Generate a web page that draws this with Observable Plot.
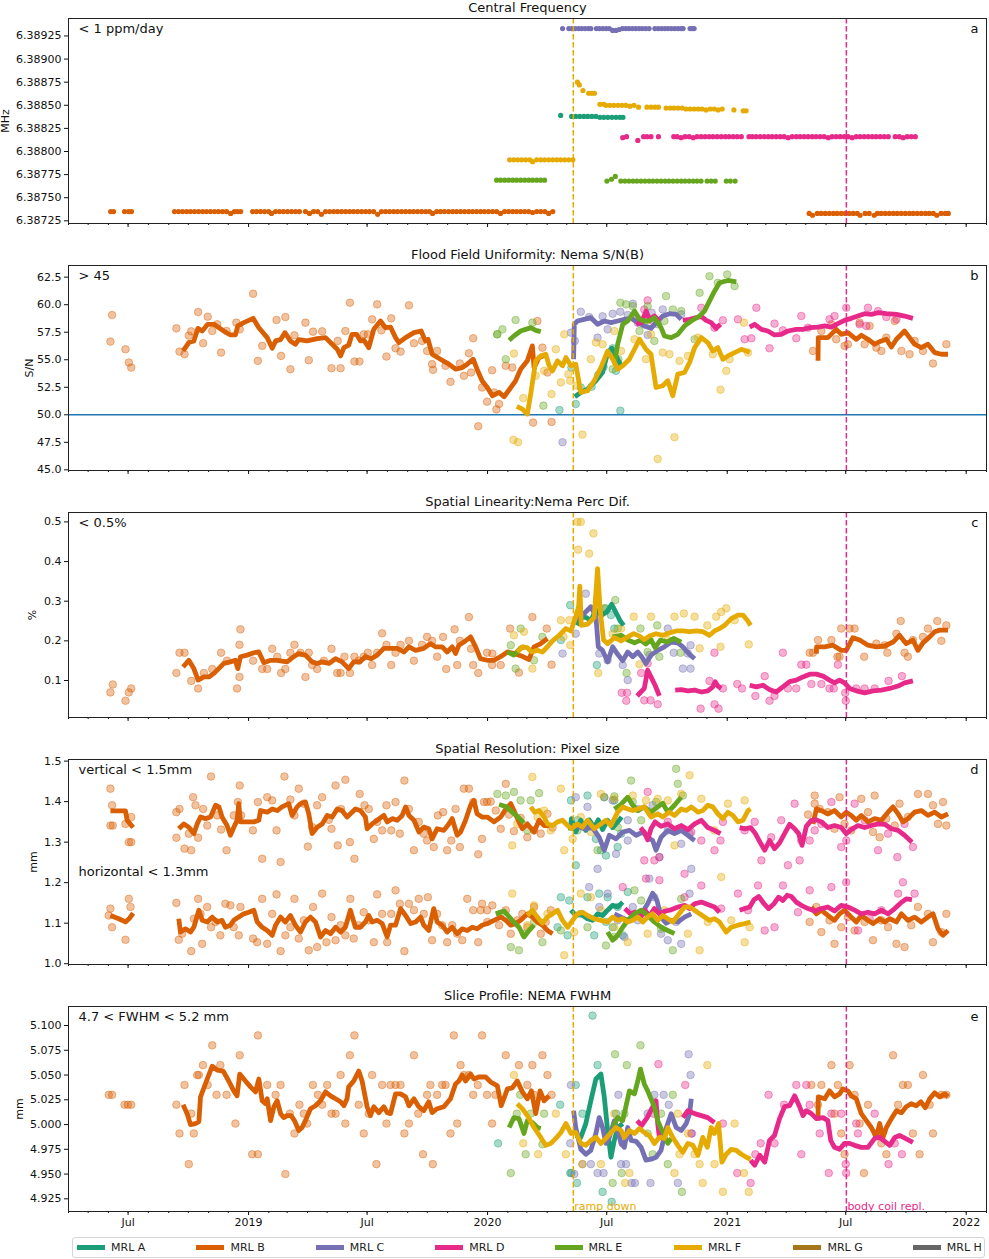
<!DOCTYPE html>
<html><head><meta charset="utf-8">
<script src="https://cdn.jsdelivr.net/npm/d3@7"></script>
<script src="https://cdn.jsdelivr.net/npm/@observablehq/plot@0.6"></script>
<style>
body{margin:0;background:#fff;font-family:"DejaVu Sans",sans-serif;}
#wrap{position:relative;width:989px;height:1259px;background:#fff;overflow:hidden}
#wrap svg{position:absolute;left:0}
#legend{position:absolute;left:72px;top:1237px;width:913px;height:21px;border:1px solid #d5d5d5;border-radius:3px;box-sizing:border-box;background:#fff}
.item{position:absolute;top:0;height:100%;display:flex;align-items:center;font-size:11px;color:#222;font-family:"DejaVu Sans",sans-serif;white-space:nowrap}
.sw{width:28px;height:5px;margin-right:6px}
</style></head><body><div id="wrap"><div id="legend"></div></div>
<script>
// ---------- categories / colours ----------
const seriesNames = ["MRL A","MRL B","MRL C","MRL D","MRL E","MRL F","MRL G","MRL H"];
const seriesColors = ["#1b9e77","#d95f02","#7570b3","#e7298a","#66a61e","#e6ab02","#a6761d","#666666"];
const eventDates = ["2020-05-11","2021-07-02"];
const eventLabels = ["ramp down","body coil repl."];
const eventColors = ["#e6ab02","#e7298a"];
const xMajorTicks = ["2018-07-01","2019-01-01","2019-07-01","2020-01-01","2020-07-01","2021-01-01","2021-07-01","2022-01-01"];
const xMajorLabels = ["Jul","2019","Jul","2020","Jul","2021","Jul","2022"];
const panelTitles = ["Central Frequency","Flood Field Uniformity: Nema S/N(B)","Spatial Linearity:Nema Perc Dif.","Spatial Resolution: Pixel size","Slice Profile: NEMA FWHM"];
const panelNotes = ["< 1 ppm/day","> 45","< 0.5%","vertical < 1.5mm","4.7 < FWHM < 5.2 mm"];
const panelLetters = ["a","b","c","d","e"];
const panelYLabels = ["MHz","S/N","%","mm","mm"];
const yTicksA = [6.38725,6.38750,6.38775,6.38800,6.38825,6.38850,6.38875,6.38900,6.38925];
const yTicksB = [45,47.5,50,52.5,55,57.5,60,62.5];
const yTicksC = [0.1,0.2,0.3,0.4,0.5];
const yTicksD = [1.0,1.1,1.2,1.3,1.4,1.5];
const yTicksE = [4.925,4.950,4.975,5.000,5.025,5.050,5.075,5.100];

// ---------- a: central frequency (decimal year, MHz) ----------
const cf_A = [[2020.305,6.38839],[2020.351,6.38838],[2020.368,6.38838],[2020.385,6.38838],[2020.402,6.38838],[2020.418,6.38838],[2020.435,6.38838],[2020.452,6.38838],[2020.469,6.38837],[2020.485,6.38837],[2020.502,6.38837],[2020.519,6.38837],[2020.536,6.38837],[2020.552,6.38837],[2020.565,6.38837]];
const cf_B = [[2018.423,6.38735],[2018.435,6.38735],[2018.481,6.38735],[2018.498,6.38735],[2018.510,6.38735],
[2018.690,6.38735],[2018.707,6.38735],[2018.724,6.38735],[2018.741,6.38735],[2018.757,6.38735],[2018.774,6.38735],[2018.791,6.38735],[2018.808,6.38735],[2018.824,6.38735],[2018.841,6.38735],[2018.858,6.38735],[2018.874,6.38735],[2018.891,6.38735],[2018.908,6.38735],[2018.925,6.38733],[2018.941,6.38735],[2018.954,6.38735],[2018.967,6.38735],
[2019.017,6.38735],[2019.033,6.38735],[2019.050,6.38735],[2019.067,6.38735],[2019.084,6.38735],[2019.096,6.38733],[2019.113,6.38735],[2019.130,6.38735],[2019.146,6.38735],[2019.163,6.38735],[2019.180,6.38735],[2019.197,6.38735],[2019.213,6.38735],
[2019.238,6.38735],[2019.255,6.38733],[2019.272,6.38735],[2019.289,6.38735],[2019.305,6.38732],[2019.322,6.38735],[2019.339,6.38735],[2019.356,6.38735],[2019.372,6.38735],[2019.389,6.38735],[2019.406,6.38735],[2019.423,6.38735],[2019.439,6.38735],[2019.456,6.38735],[2019.473,6.38735],[2019.490,6.38735],[2019.506,6.38735],[2019.523,6.38735],[2019.540,6.38732],[2019.556,6.38735],[2019.573,6.38735],[2019.590,6.38735],[2019.607,6.38735],[2019.623,6.38735],
[2019.640,6.38735],[2019.657,6.38735],[2019.674,6.38735],[2019.690,6.38735],[2019.707,6.38735],[2019.724,6.38735],[2019.741,6.38735],[2019.757,6.38735],[2019.770,6.38733],[2019.787,6.38735],[2019.803,6.38735],[2019.820,6.38735],[2019.837,6.38735],[2019.854,6.38735],[2019.870,6.38735],[2019.887,6.38735],[2019.904,6.38735],[2019.921,6.38735],[2019.937,6.38735],[2019.954,6.38735],[2019.971,6.38735],[2019.987,6.38735],[2020.004,6.38735],[2020.021,6.38735],[2020.038,6.38735],[2020.054,6.38733],[2020.071,6.38735],[2020.088,6.38735],[2020.105,6.38735],[2020.121,6.38735],[2020.138,6.38735],[2020.155,6.38735],[2020.172,6.38735],[2020.188,6.38734],[2020.205,6.38735],[2020.222,6.38735],[2020.239,6.38735],[2020.255,6.38733],[2020.272,6.38735],
[2021.343,6.38733],[2021.357,6.38731],[2021.377,6.38733],[2021.393,6.38733],[2021.410,6.38733],[2021.427,6.38733],[2021.444,6.38733],[2021.460,6.38733],[2021.477,6.38733],[2021.494,6.38733],[2021.510,6.38733],[2021.527,6.38733],[2021.544,6.38733],[2021.556,6.38731],[2021.577,6.38733],[2021.594,6.38733],[2021.615,6.38731],[2021.628,6.38733],[2021.644,6.38733],[2021.661,6.38733],[2021.678,6.38733],[2021.695,6.38733],[2021.711,6.38733],[2021.728,6.38733],[2021.745,6.38733],[2021.762,6.38733],[2021.778,6.38733],[2021.795,6.38733],[2021.812,6.38733],[2021.829,6.38733],[2021.845,6.38733],[2021.862,6.38733],[2021.877,6.38731],[2021.895,6.38733],[2021.912,6.38733],[2021.925,6.38733]];
const cf_C = [[2020.313,6.38933],[2020.339,6.38933],[2020.352,6.38933],[2020.366,6.38933],[2020.380,6.38933],[2020.393,6.38933],[2020.407,6.38933],[2020.421,6.38933],[2020.431,6.38933],[2020.454,6.38933],[2020.467,6.38933],[2020.481,6.38933],[2020.495,6.38933],[2020.508,6.38933],[2020.522,6.38931],[2020.536,6.38931],[2020.549,6.38932],[2020.563,6.38933],[2020.577,6.38933],[2020.590,6.38933],[2020.604,6.38933],[2020.618,6.38933],[2020.632,6.38933],[2020.645,6.38933],[2020.659,6.38933],[2020.674,6.38933],[2020.698,6.38933],[2020.712,6.38933],[2020.726,6.38933],[2020.740,6.38933],[2020.753,6.38933],[2020.767,6.38933],[2020.781,6.38933],[2020.795,6.38933],[2020.808,6.38933],[2020.816,6.38933],[2020.845,6.38933],[2020.855,6.38933],[2020.862,6.38933]];
const cf_D = [[2020.564,6.38815],[2020.580,6.38816],[2020.627,6.38812],[2020.651,6.38816],[2020.665,6.38816],[2020.682,6.38816],[2020.713,6.38816],
[2020.777,6.38816],[2020.791,6.38816],[2020.808,6.38815],[2020.824,6.38816],[2020.841,6.38816],[2020.858,6.38815],[2020.874,6.38816],[2020.891,6.38816],[2020.908,6.38816],[2020.925,6.38816],[2020.941,6.38816],[2020.958,6.38816],[2020.975,6.38816],[2020.992,6.38816],[2021.008,6.38816],[2021.025,6.38816],[2021.042,6.38816],[2021.059,6.38816],
[2021.091,6.38816],[2021.105,6.38816],[2021.121,6.38816],[2021.138,6.38816],[2021.155,6.38816],[2021.172,6.38816],[2021.188,6.38816],[2021.205,6.38816],[2021.222,6.38816],[2021.238,6.38816],[2021.255,6.38815],[2021.272,6.38816],[2021.289,6.38816],[2021.305,6.38816],[2021.322,6.38816],[2021.339,6.38816],[2021.356,6.38816],[2021.372,6.38816],[2021.389,6.38816],[2021.406,6.38816],[2021.423,6.38815],[2021.439,6.38816],[2021.456,6.38816],[2021.473,6.38816],[2021.490,6.38816],[2021.506,6.38816],[2021.523,6.38815],[2021.540,6.38816],[2021.556,6.38816],[2021.573,6.38816],[2021.590,6.38816],[2021.607,6.38816],[2021.623,6.38816],[2021.640,6.38816],[2021.657,6.38816],[2021.674,6.38816],
[2021.703,6.38816],[2021.720,6.38816],[2021.736,6.38815],[2021.753,6.38816],[2021.770,6.38816],[2021.787,6.38816]];
const cf_E = [[2020.038,6.38769],[2020.054,6.38769],[2020.071,6.38769],[2020.088,6.38769],[2020.105,6.38769],[2020.121,6.38769],[2020.138,6.38769],[2020.155,6.38769],[2020.172,6.38769],[2020.188,6.38769],[2020.205,6.38769],[2020.222,6.38769],[2020.238,6.38769],
[2020.498,6.38768],[2020.517,6.38770],[2020.533,6.38773],[2020.556,6.38768],[2020.573,6.38768],[2020.590,6.38768],[2020.607,6.38768],[2020.623,6.38768],[2020.640,6.38768],[2020.657,6.38768],[2020.674,6.38768],[2020.690,6.38768],[2020.707,6.38768],[2020.724,6.38768],[2020.741,6.38768],[2020.757,6.38768],[2020.774,6.38768],[2020.791,6.38768],[2020.808,6.38768],[2020.824,6.38768],[2020.841,6.38768],[2020.858,6.38768],[2020.874,6.38768],[2020.891,6.38768],[2020.916,6.38768],[2020.933,6.38768],[2020.950,6.38768],[2020.996,6.38768],[2021.013,6.38768],[2021.033,6.38768]];
const cf_F = [[2020.092,6.38791],[2020.109,6.38791],[2020.126,6.38791],[2020.142,6.38791],[2020.159,6.38791],[2020.176,6.38791],[2020.188,6.38789],[2020.205,6.38791],[2020.222,6.38791],[2020.238,6.38791],[2020.255,6.38791],[2020.272,6.38791],[2020.289,6.38791],[2020.305,6.38791],[2020.322,6.38791],[2020.339,6.38791],[2020.356,6.38791],
[2020.375,6.38875],[2020.383,6.38872],[2020.398,6.38866],[2020.422,6.38863],[2020.434,6.38863],[2020.446,6.38863],[2020.469,6.38851],[2020.485,6.38851],[2020.494,6.38850],[2020.510,6.38850],[2020.527,6.38850],[2020.544,6.38850],[2020.561,6.38850],[2020.577,6.38850],[2020.594,6.38849],[2020.611,6.38850],[2020.630,6.38848],[2020.665,6.38848],[2020.682,6.38848],[2020.699,6.38848],[2020.713,6.38848],[2020.745,6.38847],[2020.762,6.38847],[2020.778,6.38847],[2020.795,6.38847],[2020.812,6.38847],[2020.828,6.38846],[2020.845,6.38846],[2020.862,6.38846],[2020.879,6.38846],[2020.895,6.38846],[2020.912,6.38845],[2020.929,6.38846],[2020.946,6.38846],[2020.962,6.38845],[2020.979,6.38846],[2021.028,6.38845],[2021.067,6.38844],[2021.079,6.38844]];

// ---------- b: flood field uniformity S/N ----------
const sn_A_pts = [[2020.368,50.98],[2020.389,52.48],[2020.434,52.55],[2020.462,53.63],[2020.484,54.36],[2020.522,56.04],[2020.536,53.99],[2020.554,50.37],[2020.300,50.43],[2020.350,54.29]];
const sn_A_line = [[[2020.364,51.64],[2020.389,52.03],[2020.417,52.33],[2020.452,53.09],[2020.480,53.84],[2020.501,55.65],[2020.519,56.04],[2020.536,55.35],[2020.557,54.45]]];
const sn_B_pts = [[2018.422,56.65],[2018.429,59.06],[2018.485,55.95],[2018.499,54.75],[2018.509,54.29],[2018.698,57.85],[2018.711,55.74],[2018.732,55.50],[2018.750,57.19],[2018.760,57.58],[2018.789,59.33],[2018.810,56.50],[2018.829,58.91],[2018.848,57.61],[2018.869,58.22],[2018.885,55.65],[2018.908,57.61],[2018.949,58.37],[2018.963,57.76],[2019.019,60.99],[2019.039,54.90],[2019.057,56.26],[2019.117,58.61],[2019.136,55.35],[2019.154,58.88],[2019.175,54.14],[2019.192,57.22],[2019.238,58.37],[2019.252,54.96],[2019.270,57.55],[2019.308,57.58],[2019.347,54.23],[2019.373,56.71],[2019.385,54.23],[2019.405,57.61],[2019.424,60.18],[2019.443,54.84],[2019.464,54.84],[2019.482,57.31],[2019.499,57.31],[2019.517,58.67],[2019.538,60.03],[2019.556,57.67],[2019.577,55.29],[2019.597,58.76],[2019.615,56.04],[2019.636,55.74],[2019.671,59.94],[2019.692,56.50],[2019.726,56.71],[2019.747,55.80],[2019.768,54.60],[2019.772,54.08],[2019.789,55.80],[2019.824,54.45],[2019.845,52.99],[2019.884,54.66],[2019.901,53.54],[2019.922,55.59],[2019.931,53.84],[2019.940,56.95],[2019.961,48.96],[2019.977,52.48],[2019.998,51.19],[2020.019,54.05],[2020.037,50.49],[2020.027,52.03],[2020.048,50.98],[2020.076,54.45],[2020.103,54.29],[2020.190,49.29],[2020.208,58.52],[2020.229,56.10],[2020.250,53.84],[2020.267,49.35],
[2021.359,55.80],[2021.394,57.61],[2021.436,58.22],[2021.456,56.86],[2021.491,56.26],[2021.505,56.41],[2021.554,58.37],[2021.575,56.41],[2021.596,58.07],[2021.624,56.10],[2021.645,55.80],[2021.666,57.01],[2021.701,58.52],[2021.729,55.80],[2021.763,55.50],[2021.784,56.71],[2021.819,55.80],[2021.861,54.66],[2021.917,56.41]];
const sn_B_line = [
[[2018.726,55.80],[2018.750,56.56],[2018.771,56.71],[2018.788,57.85],[2018.806,57.61],[2018.829,58.22],[2018.855,58.22],[2018.896,57.61],[2018.924,57.25],[2018.945,57.25],[2018.955,58.07],[2018.980,58.37],[2019.019,58.76],[2019.043,57.91],[2019.078,57.01],[2019.099,56.04],[2019.113,56.71],[2019.134,56.83],[2019.152,57.46],[2019.175,56.71],[2019.196,56.41],[2019.210,56.83],[2019.245,56.71],[2019.287,56.92],[2019.322,57.01],[2019.350,56.41],[2019.371,55.95],[2019.385,55.35],[2019.399,56.10],[2019.419,56.32],[2019.433,57.31],[2019.452,57.31],[2019.468,56.71],[2019.482,56.80],[2019.503,56.10],[2019.524,57.76],[2019.552,58.52],[2019.573,57.91],[2019.594,57.97],[2019.615,57.01],[2019.629,56.56],[2019.657,57.01],[2019.692,57.46],[2019.722,57.61],[2019.740,56.71],[2019.751,56.86],[2019.768,55.50],[2019.803,55.05],[2019.838,54.60],[2019.866,54.14],[2019.894,54.29],[2019.915,54.60],[2019.940,55.05],[2019.956,54.14],[2019.977,53.09],[2019.999,52.48],[2020.020,51.73],[2020.048,52.03],[2020.069,51.64],[2020.097,52.48],[2020.117,53.09],[2020.138,54.14],[2020.166,54.90],[2020.187,56.26],[2020.194,54.29],[2020.215,55.20],[2020.250,55.50]],
[[2021.380,54.90],[2021.381,57.01],[2021.421,57.01],[2021.456,57.76],[2021.477,57.31],[2021.505,57.46],[2021.540,56.86],[2021.561,57.22],[2021.589,56.86],[2021.617,56.41],[2021.645,56.71],[2021.666,56.86],[2021.687,56.16],[2021.708,56.86],[2021.742,57.61],[2021.763,57.01],[2021.784,56.41],[2021.812,56.10],[2021.840,56.41],[2021.868,55.65],[2021.896,55.50],[2021.924,55.50]]];
const sn_C_pts = [[2020.348,57.46],[2020.364,56.71],[2020.389,59.36],[2020.424,58.88],[2020.459,57.01],[2020.480,58.94],[2020.501,57.76],[2020.522,59.18],[2020.554,59.36],[2020.585,59.06],[2020.606,60.09],[2020.627,58.37],[2020.668,57.25],[2020.685,59.27],[2020.710,58.22],[2020.731,59.57],[2020.313,47.51],[2020.808,59.12]];
const sn_C_line = [[[2020.359,55.05],[2020.362,58.22],[2020.375,58.52],[2020.403,58.67],[2020.431,58.82],[2020.459,58.22],[2020.487,58.52],[2020.515,58.37],[2020.543,58.52],[2020.571,58.67],[2020.599,58.76],[2020.627,58.37],[2020.654,58.07],[2020.682,57.85],[2020.703,58.37],[2020.731,58.97],[2020.759,59.18],[2020.787,59.12],[2020.808,58.67]]];
const sn_D_pts = [[2020.624,58.76],[2020.654,59.57],[2020.668,60.39],[2020.689,58.52],[2020.892,59.72],[2020.947,57.91],[2020.982,58.58],[2021.045,58.67],[2021.073,56.86],[2021.101,56.95],[2021.122,59.72],[2021.177,56.04],[2021.198,58.28],[2021.233,57.67],[2021.289,56.95],[2021.310,58.97],[2021.338,57.91],[2021.428,58.67],[2021.449,58.97],[2021.498,59.72],[2021.554,58.22],[2021.589,59.72],[2021.631,59.42],[2021.666,58.88],[2021.708,58.67],[2021.582,58.07]];
const sn_D_line = [
[[2020.620,58.22],[2020.641,58.37],[2020.662,59.42],[2020.675,58.67],[2020.696,58.97],[2020.717,58.52]],
[[2020.815,58.58],[2020.843,58.67],[2020.871,58.82],[2020.892,58.94],[2020.912,58.58],[2020.933,58.37],[2020.954,57.85],[2020.972,58.22]],
[[2021.094,57.97],[2021.115,58.22],[2021.143,57.76],[2021.170,57.61],[2021.198,57.25],[2021.226,57.31],[2021.254,57.61],[2021.289,57.76],[2021.317,57.76],[2021.345,57.91],[2021.380,57.97],[2021.408,58.07],[2021.436,57.97],[2021.463,58.28],[2021.491,58.58],[2021.519,58.76],[2021.547,58.97],[2021.575,59.18],[2021.603,59.12],[2021.631,59.27],[2021.666,59.18],[2021.708,59.12],[2021.742,58.97],[2021.777,58.76]]];
const sn_E_pts = [[2020.041,57.31],[2020.062,57.76],[2020.117,58.61],[2020.187,58.37],[2020.076,55.05],[2020.233,50.83],[2020.040,57.31],
[2020.554,60.18],[2020.578,60.03],[2020.606,59.87],[2020.634,57.61],[2020.654,58.22],[2020.668,59.87],[2020.696,56.71],[2020.738,58.52],[2020.745,60.78],[2020.773,59.57],[2020.808,59.42],[2020.864,56.86],[2020.885,61.08],[2020.926,62.59],[2020.961,61.99],[2021.000,62.74],[2021.031,61.69],[2020.546,55.05],[2020.522,54.14]];
const sn_E_line = [
[[2020.090,56.77],[2020.110,57.16],[2020.138,57.61],[2020.159,57.76],[2020.180,57.91],[2020.201,57.67],[2020.222,57.55]],
[[2020.529,54.60],[2020.543,56.41],[2020.564,58.22],[2020.585,58.52],[2020.613,59.42],[2020.634,58.67],[2020.654,58.52],[2020.675,58.52],[2020.696,58.82],[2020.724,57.91],[2020.738,57.16],[2020.766,57.01],[2020.794,57.31],[2020.822,58.07],[2020.850,58.52],[2020.885,58.97],[2020.905,59.42],[2020.926,60.33],[2020.947,61.23],[2020.968,61.99],[2021.003,62.20],[2021.038,62.08]]];
const sn_F_pts = [[2020.110,55.56],[2020.149,51.52],[2020.201,53.54],[2020.236,53.99],[2020.267,51.88],[2020.285,55.95],[2020.306,52.94],[2020.320,57.31],[2020.337,53.69],[2020.345,53.09],[2020.373,52.64],[2020.396,48.20],[2020.431,55.05],[2020.452,56.56],[2020.480,56.41],[2020.529,57.61],[2020.557,55.80],[2020.613,56.86],[2020.661,55.05],[2020.682,57.31],[2020.710,45.99],[2020.731,55.65],[2020.759,55.50],[2020.780,47.96],[2020.801,54.90],[2020.836,55.35],[2020.878,57.01],[2020.940,55.50],[2020.972,52.28],[2020.996,53.99],[2021.010,55.05],[2021.070,58.37],[2021.087,55.65],[2020.108,47.72],[2020.127,47.51]];
const sn_F_line = [[[2020.122,50.77],[2020.145,50.52],[2020.166,50.07],[2020.180,51.88],[2020.201,54.90],[2020.222,55.35],[2020.243,55.50],[2020.257,54.45],[2020.271,53.99],[2020.292,54.90],[2020.313,54.45],[2020.327,55.20],[2020.348,54.45],[2020.368,54.60],[2020.389,52.03],[2020.417,52.18],[2020.445,53.09],[2020.473,54.29],[2020.501,55.80],[2020.522,55.05],[2020.543,54.14],[2020.564,54.45],[2020.592,55.05],[2020.613,55.95],[2020.634,56.86],[2020.661,55.95],[2020.682,55.50],[2020.703,52.48],[2020.731,52.64],[2020.752,53.09],[2020.773,51.73],[2020.794,53.69],[2020.822,53.84],[2020.843,54.75],[2020.864,56.10],[2020.892,57.01],[2020.919,56.56],[2020.940,55.80],[2020.961,56.10],[2020.982,55.05],[2021.003,55.35],[2021.031,55.65],[2021.059,55.95],[2021.080,55.80],[2021.094,55.65]]];

// ---------- c: spatial linearity % ----------
const sl_A_pts = [[2020.345,0.290],[2020.456,0.282],[2020.487,0.282],[2020.456,0.139],[2020.515,0.265],[2020.529,0.231],[2020.306,0.202]];
const sl_A_line = [[[2020.373,0.239],[2020.389,0.259],[2020.410,0.259],[2020.431,0.252],[2020.452,0.277],[2020.476,0.265],[2020.498,0.273],[2020.518,0.292],[2020.536,0.271],[2020.554,0.250],[2020.568,0.239]]];
const sl_B_pts = [[2018.422,0.070],[2018.432,0.090],[2018.485,0.049],[2018.499,0.070],[2018.509,0.080],[2018.698,0.119],[2018.711,0.170],[2018.732,0.170],[2018.760,0.099],[2018.789,0.080],[2018.813,0.119],[2018.848,0.129],[2018.885,0.170],[2018.910,0.150],[2018.952,0.080],[2018.962,0.190],[2018.962,0.109],[2018.966,0.229],[2019.019,0.150],[2019.057,0.129],[2019.078,0.129],[2019.099,0.180],[2019.120,0.160],[2019.136,0.119],[2019.154,0.129],[2019.175,0.170],[2019.192,0.190],[2019.217,0.170],[2019.238,0.109],[2019.252,0.170],[2019.266,0.139],[2019.287,0.129],[2019.315,0.150],[2019.347,0.180],[2019.371,0.119],[2019.385,0.119],[2019.401,0.160],[2019.424,0.119],[2019.443,0.160],[2019.461,0.150],[2019.482,0.160],[2019.499,0.170],[2019.517,0.139],[2019.538,0.170],[2019.559,0.219],[2019.577,0.190],[2019.597,0.139],[2019.615,0.170],[2019.636,0.190],[2019.671,0.200],[2019.692,0.150],[2019.726,0.190],[2019.747,0.210],[2019.768,0.200],[2019.789,0.160],[2019.814,0.210],[2019.827,0.129],[2019.862,0.229],[2019.873,0.139],[2019.884,0.200],[2019.922,0.260],[2019.931,0.180],[2019.940,0.139],[2019.961,0.119],[2019.998,0.170],[2020.019,0.139],
[2020.094,0.231],[2020.187,0.260],[2020.131,0.120],[2020.247,0.231],[2020.267,0.140],[2020.020,0.168],[2020.055,0.139],
[2021.345,0.170],[2021.359,0.170],[2021.380,0.202],[2021.436,0.202],[2021.461,0.160],[2021.470,0.160],[2021.477,0.231],[2021.512,0.231],[2021.533,0.231],[2021.573,0.160],[2021.624,0.193],[2021.659,0.189],[2021.670,0.170],[2021.708,0.218],[2021.726,0.250],[2021.742,0.170],[2021.756,0.160],[2021.777,0.202],[2021.819,0.210],[2021.840,0.231],[2021.879,0.250],[2021.896,0.200],[2021.917,0.239]];
const sl_B_line = [
[[2018.726,0.134],[2018.750,0.151],[2018.771,0.130],[2018.789,0.101],[2018.813,0.109],[2018.834,0.109],[2018.855,0.118],[2018.875,0.130],[2018.896,0.143],[2018.924,0.147],[2018.945,0.151],[2018.955,0.130],[2018.966,0.160],[2018.994,0.164],[2019.022,0.170],[2019.043,0.172],[2019.064,0.145],[2019.092,0.151],[2019.120,0.151],[2019.161,0.147],[2019.189,0.160],[2019.210,0.168],[2019.238,0.164],[2019.266,0.147],[2019.287,0.143],[2019.308,0.147],[2019.336,0.143],[2019.364,0.155],[2019.391,0.147],[2019.419,0.130],[2019.440,0.147],[2019.465,0.147],[2019.489,0.160],[2019.513,0.155],[2019.538,0.164],[2019.566,0.181],[2019.594,0.181],[2019.622,0.181],[2019.650,0.172],[2019.671,0.185],[2019.699,0.176],[2019.733,0.181],[2019.761,0.193],[2019.782,0.185],[2019.810,0.185],[2019.831,0.172],[2019.852,0.185],[2019.866,0.168],[2019.880,0.189],[2019.901,0.197],[2019.929,0.210],[2019.950,0.185],[2019.970,0.155],[2019.998,0.151],[2020.026,0.151],[2020.054,0.160],[2020.083,0.172],[2020.110,0.168],[2020.145,0.161],[2020.173,0.153],[2020.194,0.185],[2020.222,0.193],[2020.250,0.206]],
[[2021.373,0.168],[2021.374,0.185],[2021.408,0.185],[2021.442,0.189],[2021.477,0.176],[2021.498,0.176],[2021.526,0.208],[2021.554,0.202],[2021.589,0.189],[2021.624,0.185],[2021.659,0.187],[2021.694,0.197],[2021.721,0.214],[2021.749,0.193],[2021.777,0.202],[2021.798,0.176],[2021.819,0.195],[2021.847,0.210],[2021.868,0.223],[2021.889,0.227],[2021.924,0.227]]];
const sl_C_pts = [[2020.410,0.319],[2020.313,0.168],[2020.368,0.218],[2020.466,0.168],[2020.501,0.151],[2020.564,0.139],[2020.585,0.101],[2020.675,0.164],[2020.752,0.231],[2020.777,0.170],[2020.815,0.130],[2020.847,0.130],[2020.847,0.189],[2020.836,0.168]];
const sl_C_line = [[[2020.373,0.254],[2020.403,0.269],[2020.431,0.286],[2020.452,0.262],[2020.462,0.185],[2020.480,0.176],[2020.501,0.147],[2020.522,0.185],[2020.543,0.166],[2020.564,0.150],[2020.585,0.172],[2020.606,0.160],[2020.627,0.172],[2020.643,0.160],[2020.661,0.143],[2020.682,0.164],[2020.710,0.176],[2020.738,0.185],[2020.766,0.197],[2020.794,0.195],[2020.815,0.185],[2020.843,0.166],[2020.864,0.155]]];
const sl_D_pts = [[2020.560,0.069],[2020.582,0.069],[2020.579,0.049],[2020.654,0.050],[2020.680,0.050],[2020.710,0.040],[2020.641,0.119],[2020.668,0.143],[2020.889,0.029],[2020.926,0.099],[2020.947,0.040],[2020.964,0.029],[2020.947,0.170],[2020.982,0.080],[2021.042,0.091],[2021.062,0.080],[2021.118,0.061],[2021.157,0.111],[2021.177,0.049],[2021.198,0.061],[2021.233,0.170],[2021.254,0.080],[2021.289,0.080],[2021.310,0.140],[2021.331,0.140],[2021.352,0.091],[2021.394,0.091],[2021.428,0.080],[2021.446,0.080],[2021.463,0.140],[2021.494,0.069],[2021.496,0.049],[2021.540,0.080],[2021.575,0.080],[2021.617,0.080],[2021.675,0.099],[2021.731,0.111]];
const sl_D_line = [
[[2020.624,0.061],[2020.654,0.080],[2020.668,0.126],[2020.682,0.109],[2020.699,0.088],[2020.717,0.061]],
[[2020.783,0.076],[2020.808,0.077],[2020.836,0.074],[2020.864,0.076],[2020.892,0.071],[2020.919,0.074],[2020.940,0.084],[2020.950,0.097],[2020.961,0.086],[2020.975,0.080]],
[[2021.094,0.088],[2021.122,0.084],[2021.150,0.088],[2021.177,0.077],[2021.205,0.071],[2021.233,0.084],[2021.261,0.097],[2021.289,0.101],[2021.317,0.109],[2021.345,0.116],[2021.373,0.116],[2021.401,0.111],[2021.428,0.101],[2021.449,0.094],[2021.470,0.101],[2021.491,0.094],[2021.512,0.080],[2021.540,0.074],[2021.575,0.069],[2021.610,0.074],[2021.645,0.076],[2021.680,0.080],[2021.715,0.086],[2021.742,0.094],[2021.777,0.099]]];
const sl_E_pts = [[2020.097,0.189],[2020.117,0.130],[2020.138,0.231],[2020.194,0.151],[2020.229,0.210],[2020.494,0.282],[2020.533,0.303],[2020.543,0.231],[2020.580,0.119],[2020.638,0.231],[2020.708,0.239],[2020.668,0.172],[2020.717,0.160],[2020.805,0.170]];
const sl_E_line = [
[[2020.083,0.172],[2020.110,0.164],[2020.136,0.181],[2020.155,0.185]],
[[2020.522,0.210],[2020.557,0.214],[2020.585,0.202],[2020.613,0.195],[2020.638,0.202],[2020.661,0.192],[2020.682,0.203],[2020.699,0.183],[2020.721,0.202],[2020.749,0.197],[2020.777,0.206],[2020.808,0.197]]];
const sl_F_pts = [[2020.375,0.500],[2020.389,0.500],[2020.378,0.430],[2020.424,0.420],[2020.442,0.471],[2020.306,0.252],[2020.317,0.210],[2020.345,0.189],[2020.341,0.252],[2020.187,0.130],[2020.152,0.223],[2020.462,0.119],[2020.610,0.261],[2020.682,0.261],[2020.780,0.261],[2020.819,0.269],[2020.864,0.261],[2020.885,0.181],[2020.917,0.239],[2020.954,0.261],[2020.975,0.273],[2020.996,0.282],[2020.972,0.185],[2021.031,0.252],[2021.090,0.191],[2020.634,0.141],[2020.752,0.202],[2020.522,0.218],[2020.557,0.231],[2020.110,0.214]];
const sl_F_line = [[[2020.124,0.172],[2020.145,0.185],[2020.166,0.183],[2020.183,0.172],[2020.208,0.176],[2020.229,0.172],[2020.250,0.185],[2020.271,0.200],[2020.299,0.214],[2020.327,0.231],[2020.348,0.225],[2020.368,0.261],[2020.380,0.287],[2020.385,0.338],[2020.391,0.239],[2020.417,0.242],[2020.445,0.259],[2020.459,0.382],[2020.470,0.277],[2020.484,0.202],[2020.501,0.193],[2020.529,0.208],[2020.557,0.200],[2020.585,0.210],[2020.610,0.218],[2020.634,0.212],[2020.654,0.203],[2020.675,0.212],[2020.703,0.218],[2020.731,0.214],[2020.759,0.220],[2020.787,0.225],[2020.815,0.225],[2020.843,0.223],[2020.871,0.225],[2020.898,0.223],[2020.926,0.214],[2020.947,0.225],[2020.968,0.231],[2020.989,0.239],[2021.017,0.256],[2021.045,0.265],[2021.066,0.265],[2021.084,0.252],[2021.098,0.239]]];

// ---------- d: spatial resolution pixel size (mm) ----------
const sr_A_pts = [[2020.348,1.403],[2020.375,1.354],[2020.417,1.415],[2020.452,1.308],[2020.473,1.280],[2020.494,1.267],[2020.368,1.243],[2020.529,1.403],[2020.543,1.288],[2020.557,1.321],
[2020.306,1.164],[2020.341,1.156],[2020.389,1.123],[2020.417,1.164],[2020.445,1.070],[2020.466,1.173],[2020.494,1.103],[2020.501,1.164],[2020.522,1.090],[2020.543,1.140],[2020.564,1.070],[2020.585,1.177],[2020.292,1.090],[2020.334,1.070]];
const sr_A_line = [
[[2020.345,1.329],[2020.350,1.358],[2020.368,1.325],[2020.389,1.354],[2020.410,1.329],[2020.424,1.355],[2020.445,1.336],[2020.462,1.355],[2020.480,1.331],[2020.501,1.354],[2020.522,1.336],[2020.543,1.350],[2020.560,1.362]],
[[2020.348,1.132],[2020.368,1.119],[2020.389,1.123],[2020.417,1.111],[2020.438,1.107],[2020.459,1.123],[2020.480,1.119],[2020.501,1.132],[2020.522,1.144],[2020.543,1.140],[2020.564,1.152]]];
const sr_B_pts = [[2018.422,1.432],[2018.429,1.391],[2018.422,1.341],[2018.432,1.341],[2018.485,1.345],[2018.499,1.300],[2018.509,1.300],[2018.509,1.362],[2018.698,1.374],[2018.698,1.311],[2018.711,1.382],[2018.732,1.284],[2018.750,1.321],[2018.760,1.280],[2018.768,1.411],[2018.778,1.391],[2018.789,1.311],[2018.810,1.382],[2018.827,1.341],[2018.843,1.462],[2018.869,1.366],[2018.885,1.331],[2018.908,1.280],[2018.938,1.366],[2018.955,1.399],[2018.963,1.440],[2018.969,1.366],[2019.018,1.329],[2019.039,1.399],[2019.057,1.259],[2019.078,1.411],[2019.099,1.403],[2019.117,1.329],[2019.134,1.251],[2019.150,1.462],[2019.175,1.405],[2019.192,1.366],[2019.210,1.432],[2019.231,1.395],[2019.248,1.289],[2019.266,1.337],[2019.287,1.391],[2019.308,1.411],[2019.336,1.355],[2019.347,1.333],[2019.364,1.440],[2019.373,1.292],[2019.387,1.382],[2019.405,1.454],[2019.424,1.300],[2019.443,1.259],[2019.465,1.419],[2019.485,1.391],[2019.503,1.382],[2019.524,1.308],[2019.538,1.350],[2019.559,1.329],[2019.577,1.391],[2019.597,1.329],[2019.615,1.399],[2019.633,1.321],[2019.652,1.452],[2019.671,1.382],[2019.692,1.280],[2019.712,1.350],[2019.733,1.321],[2019.747,1.304],[2019.775,1.288],[2019.792,1.366],[2019.814,1.374],[2019.831,1.280],[2019.848,1.304],[2019.866,1.382],[2019.884,1.288],[2019.901,1.432],[2019.922,1.432],[2019.940,1.399],[2019.961,1.270],[2019.977,1.308],[2019.998,1.399],
[2018.415,1.119],[2018.422,1.136],[2018.429,1.090],[2018.485,1.059],[2018.499,1.160],[2018.506,1.140],[2018.698,1.150],[2018.708,1.059],[2018.722,1.074],[2018.760,1.031],[2018.771,1.111],[2018.789,1.160],[2018.799,1.123],[2018.806,1.049],[2018.827,1.140],[2018.843,1.090],[2018.862,1.103],[2018.882,1.070],[2018.903,1.148],[2018.924,1.144],[2018.938,1.090],[2018.959,1.070],[2018.966,1.140],[2019.019,1.062],[2019.036,1.053],[2019.057,1.160],[2019.078,1.049],[2019.099,1.123],[2019.117,1.171],[2019.134,1.031],[2019.154,1.070],[2019.175,1.090],[2019.192,1.160],[2019.210,1.062],[2019.231,1.107],[2019.252,1.033],[2019.270,1.140],[2019.287,1.041],[2019.308,1.173],[2019.326,1.053],[2019.347,1.115],[2019.364,1.058],[2019.385,1.095],[2019.405,1.070],[2019.426,1.160],[2019.440,1.062],[2019.461,1.095],[2019.482,1.127],[2019.503,1.107],[2019.524,1.053],[2019.538,1.171],[2019.559,1.123],[2019.580,1.053],[2019.597,1.123],[2019.615,1.181],[2019.633,1.148],[2019.652,1.031],[2019.671,1.148],[2019.692,1.132],[2019.712,1.160],[2019.733,1.123],[2019.750,1.164],[2019.768,1.058],[2019.789,1.123],[2019.810,1.095],[2019.831,1.053],[2019.852,1.095],[2019.873,1.074],[2019.894,1.058],[2019.915,1.160],[2019.940,1.132],[2019.961,1.053],[2019.977,1.148],[2019.998,1.132],
[2019.985,1.399],[2020.013,1.400],[2020.034,1.378],[2020.055,1.333],[2020.076,1.444],[2020.090,1.368],[2020.110,1.327],[2020.138,1.360],[2020.166,1.312],[2020.194,1.329],[2020.222,1.321],[2020.250,1.370],[2020.271,1.336],
[2021.338,1.368],[2021.366,1.395],[2021.366,1.415],[2021.387,1.382],[2021.421,1.374],[2021.449,1.333],[2021.470,1.411],[2021.491,1.345],[2021.519,1.329],[2021.561,1.407],[2021.589,1.374],[2021.617,1.415],[2021.610,1.325],[2021.638,1.312],[2021.666,1.358],[2021.701,1.341],[2021.721,1.395],[2021.756,1.362],[2021.798,1.419],[2021.840,1.419],[2021.861,1.391],[2021.882,1.345],[2021.903,1.399],[2021.917,1.341],
[2019.971,1.132],[2019.999,1.103],[2020.020,1.144],[2020.048,1.095],[2020.076,1.132],[2020.097,1.074],[2020.124,1.107],[2020.145,1.123],[2020.166,1.090],[2020.194,1.140],[2020.222,1.074],[2020.243,1.103],[2020.264,1.132],
[2021.345,1.103],[2021.373,1.140],[2021.394,1.078],[2021.428,1.107],[2021.449,1.049],[2021.477,1.090],[2021.505,1.115],[2021.533,1.082],[2021.575,1.103],[2021.610,1.058],[2021.645,1.107],[2021.673,1.090],[2021.708,1.049],[2021.742,1.041],[2021.770,1.095],[2021.798,1.140],[2021.840,1.123],[2021.861,1.053],[2021.896,1.078],[2021.917,1.123]];
const sr_B_line = [
[[2018.422,1.377],[2018.485,1.377],[2018.492,1.354],[2018.517,1.336]],
[[2018.708,1.333],[2018.729,1.345],[2018.750,1.337],[2018.771,1.321],[2018.785,1.345],[2018.799,1.362],[2018.820,1.358],[2018.841,1.362],[2018.862,1.391],[2018.876,1.387],[2018.889,1.362],[2018.910,1.341],[2018.924,1.317],[2018.938,1.336],[2018.952,1.354],[2018.959,1.395],[2018.966,1.350],[2019.022,1.350],[2019.043,1.354],[2019.050,1.378],[2019.078,1.374],[2019.099,1.382],[2019.120,1.378],[2019.140,1.387],[2019.168,1.395],[2019.182,1.366],[2019.203,1.387],[2019.217,1.395],[2019.238,1.399],[2019.252,1.370],[2019.266,1.321],[2019.287,1.337],[2019.308,1.345],[2019.329,1.366],[2019.350,1.362],[2019.371,1.382],[2019.391,1.378],[2019.412,1.362],[2019.433,1.374],[2019.447,1.382],[2019.468,1.378],[2019.489,1.362],[2019.496,1.333],[2019.517,1.345],[2019.538,1.354],[2019.566,1.366],[2019.580,1.350],[2019.601,1.358],[2019.622,1.354],[2019.643,1.366],[2019.657,1.387],[2019.671,1.366],[2019.692,1.354],[2019.713,1.325],[2019.733,1.337],[2019.754,1.333],[2019.768,1.308],[2019.789,1.333],[2019.817,1.329],[2019.838,1.345],[2019.852,1.358],[2019.873,1.317],[2019.887,1.325],[2019.908,1.354],[2019.929,1.391],[2019.943,1.403],[2019.956,1.370],[2019.977,1.362],[2019.999,1.362],[2020.027,1.350],[2020.055,1.362],[2020.076,1.382],[2020.097,1.395],[2020.110,1.378],[2020.131,1.350],[2020.145,1.333],[2020.166,1.345],[2020.194,1.325],[2020.215,1.354],[2020.236,1.341],[2020.257,1.341]],
[[2021.359,1.345],[2021.373,1.382],[2021.394,1.378],[2021.421,1.370],[2021.449,1.378],[2021.477,1.362],[2021.498,1.374],[2021.519,1.366],[2021.540,1.354],[2021.561,1.366],[2021.589,1.350],[2021.617,1.358],[2021.645,1.354],[2021.673,1.374],[2021.694,1.387],[2021.715,1.370],[2021.735,1.350],[2021.756,1.358],[2021.784,1.374],[2021.812,1.378],[2021.840,1.366],[2021.868,1.374],[2021.896,1.362],[2021.924,1.370]],
[[2018.422,1.119],[2018.457,1.111],[2018.485,1.103],[2018.503,1.113],[2018.517,1.125]],
[[2018.708,1.111],[2018.715,1.078],[2018.736,1.086],[2018.757,1.078],[2018.771,1.090],[2018.792,1.132],[2018.806,1.107],[2018.827,1.103],[2018.848,1.115],[2018.869,1.103],[2018.889,1.107],[2018.903,1.090],[2018.924,1.095],[2018.938,1.107],[2018.959,1.115],[2018.980,1.123],[2019.001,1.127],[2019.022,1.132],[2019.036,1.103],[2019.057,1.090],[2019.078,1.082],[2019.099,1.070],[2019.113,1.095],[2019.134,1.115],[2019.154,1.103],[2019.175,1.119],[2019.196,1.095],[2019.217,1.078],[2019.238,1.103],[2019.259,1.115],[2019.280,1.103],[2019.301,1.066],[2019.322,1.082],[2019.343,1.074],[2019.364,1.090],[2019.385,1.078],[2019.405,1.090],[2019.426,1.132],[2019.447,1.090],[2019.468,1.090],[2019.489,1.103],[2019.503,1.119],[2019.517,1.103],[2019.538,1.107],[2019.559,1.099],[2019.580,1.066],[2019.594,1.095],[2019.615,1.095],[2019.636,1.136],[2019.657,1.119],[2019.678,1.099],[2019.699,1.103],[2019.720,1.115],[2019.733,1.095],[2019.754,1.082],[2019.768,1.119],[2019.775,1.136],[2019.789,1.103],[2019.810,1.095],[2019.831,1.078],[2019.852,1.090],[2019.873,1.074],[2019.894,1.086],[2019.915,1.082],[2019.936,1.090],[2019.956,1.086],[2019.977,1.095],[2019.999,1.099],[2020.027,1.107],[2020.055,1.115],[2020.076,1.107],[2020.097,1.095],[2020.117,1.099],[2020.138,1.107],[2020.166,1.123],[2020.187,1.115],[2020.208,1.103],[2020.229,1.095],[2020.250,1.082],[2020.271,1.074]],
[[2021.352,1.140],[2021.373,1.123],[2021.394,1.132],[2021.421,1.119],[2021.449,1.107],[2021.470,1.123],[2021.491,1.132],[2021.519,1.115],[2021.540,1.103],[2021.561,1.119],[2021.589,1.107],[2021.610,1.099],[2021.638,1.111],[2021.659,1.103],[2021.680,1.111],[2021.708,1.103],[2021.729,1.123],[2021.756,1.107],[2021.784,1.115],[2021.812,1.103],[2021.840,1.115],[2021.861,1.123],[2021.882,1.086],[2021.903,1.070],[2021.924,1.082]]];
const sr_C_pts = [[2020.368,1.411],[2020.417,1.387],[2020.459,1.234],[2020.487,1.411],[2020.522,1.403],[2020.536,1.271],[2020.585,1.304],[2020.627,1.382],[2020.717,1.263],[2020.752,1.329],[2020.808,1.296],[2020.843,1.321],[2020.850,1.234],[2020.689,1.391],[2020.585,1.354],
[2020.424,1.189],[2020.466,1.140],[2020.501,1.173],[2020.543,1.107],[2020.571,1.066],[2020.606,1.140],[2020.627,1.107],[2020.675,1.210],[2020.696,1.164],[2020.724,1.074],[2020.752,1.058],[2020.787,1.103],[2020.808,1.049],[2020.843,1.173]];
const sr_C_line = [
[[2020.368,1.341],[2020.403,1.333],[2020.438,1.336],[2020.466,1.312],[2020.487,1.280],[2020.508,1.317],[2020.536,1.308],[2020.564,1.325],[2020.592,1.329],[2020.620,1.317],[2020.648,1.325],[2020.668,1.312],[2020.689,1.304],[2020.703,1.280],[2020.724,1.312],[2020.752,1.329],[2020.780,1.321],[2020.808,1.329],[2020.836,1.317],[2020.864,1.304]],
[[2020.529,1.123],[2020.557,1.115],[2020.585,1.107],[2020.613,1.117],[2020.641,1.122],[2020.668,1.148],[2020.689,1.174],[2020.707,1.156],[2020.724,1.115],[2020.745,1.100],[2020.766,1.107],[2020.794,1.103],[2020.822,1.115],[2020.850,1.123]]];
const sr_D_pts = [[2020.654,1.255],[2020.668,1.424],[2020.696,1.255],[2020.717,1.263],[2020.752,1.350],[2020.822,1.222],[2020.850,1.325],[2020.892,1.304],[2020.947,1.280],[2020.972,1.304],[2020.982,1.350],[2021.073,1.329],[2021.115,1.350],[2021.143,1.255],[2021.184,1.312],[2021.226,1.354],[2021.254,1.243],[2021.282,1.395],[2021.303,1.255],[2021.310,1.304],[2021.345,1.304],[2021.366,1.329],[2021.394,1.345],[2021.436,1.399],[2021.477,1.288],[2021.498,1.304],[2021.533,1.395],[2021.575,1.354],[2021.631,1.280],[2021.673,1.321],[2021.712,1.263],[2021.742,1.345],[2021.777,1.288],
[2020.564,1.189],[2020.641,1.123],[2020.661,1.210],[2020.717,1.206],[2020.822,1.164],[2020.892,1.193],[2020.975,1.136],[2021.045,1.173],[2021.087,1.132],[2021.129,1.193],[2021.157,1.082],[2021.198,1.090],[2021.233,1.193],[2021.296,1.127],[2021.345,1.181],[2021.498,1.201],[2021.547,1.082],[2021.596,1.111],[2021.645,1.132],[2021.715,1.173],[2021.735,1.201],[2021.784,1.173],[2021.436,1.189]];
const sr_D_line = [
[[2020.638,1.336],[2020.654,1.325],[2020.668,1.306],[2020.682,1.333],[2020.699,1.350],[2020.724,1.339],[2020.752,1.345],[2020.780,1.333],[2020.808,1.341],[2020.836,1.331],[2020.864,1.345],[2020.892,1.354],[2020.919,1.336],[2020.947,1.329],[2020.972,1.321]],
[[2021.052,1.336],[2021.076,1.333],[2021.098,1.336],[2021.118,1.321],[2021.137,1.300],[2021.157,1.280],[2021.177,1.304],[2021.198,1.284],[2021.219,1.298],[2021.240,1.321],[2021.261,1.344],[2021.282,1.333],[2021.299,1.321],[2021.313,1.292],[2021.331,1.339],[2021.352,1.354],[2021.373,1.355],[2021.394,1.350],[2021.421,1.336],[2021.449,1.341],[2021.477,1.336],[2021.498,1.321],[2021.519,1.331],[2021.547,1.341],[2021.575,1.336],[2021.603,1.341],[2021.631,1.345],[2021.659,1.344],[2021.687,1.333],[2021.715,1.329],[2021.742,1.317],[2021.773,1.300]],
[[2020.573,1.136],[2020.596,1.123],[2020.615,1.127],[2020.638,1.115],[2020.657,1.132],[2020.675,1.117],[2020.696,1.136],[2020.717,1.123],[2020.741,1.130],[2020.766,1.133],[2020.794,1.140],[2020.822,1.144],[2020.843,1.136],[2020.864,1.148],[2020.892,1.152],[2020.919,1.146],[2020.947,1.140],[2020.968,1.127]],
[[2021.052,1.132],[2021.073,1.136],[2021.094,1.140],[2021.112,1.158],[2021.132,1.166],[2021.154,1.148],[2021.173,1.136],[2021.196,1.148],[2021.215,1.164],[2021.233,1.156],[2021.251,1.169],[2021.268,1.166],[2021.289,1.152],[2021.310,1.144],[2021.338,1.136],[2021.366,1.130],[2021.394,1.136],[2021.421,1.140],[2021.449,1.130],[2021.477,1.144],[2021.505,1.140],[2021.533,1.132],[2021.561,1.123],[2021.589,1.127],[2021.617,1.123],[2021.645,1.132],[2021.673,1.123],[2021.701,1.136],[2021.726,1.150],[2021.749,1.160],[2021.773,1.158]]];
const sr_E_pts = [[2020.041,1.419],[2020.076,1.415],[2020.110,1.424],[2020.138,1.403],[2020.180,1.403],[2020.215,1.421],[2020.166,1.329],[2020.375,1.329],[2020.487,1.411],[2020.529,1.413],[2020.599,1.452],[2020.606,1.399],[2020.641,1.354],[2020.703,1.399],[2020.787,1.481],[2020.794,1.444],[2020.815,1.415],[2020.543,1.337],[2020.459,1.280],
[2020.055,1.123],[2020.097,1.041],[2020.131,1.033],[2020.152,1.074],[2020.194,1.103],[2020.229,1.053],[2020.306,1.082],[2020.417,1.090],[2020.494,1.045],[2020.529,1.066],[2020.613,1.181],[2020.641,1.156],[2020.724,1.086],[2020.773,1.033],[2020.808,1.160]];
const sr_E_line = [
[[2020.048,1.393],[2020.076,1.388],[2020.103,1.374],[2020.131,1.360],[2020.152,1.347]],
[[2020.529,1.382],[2020.557,1.393],[2020.585,1.411],[2020.606,1.391],[2020.627,1.378],[2020.654,1.387],[2020.682,1.374],[2020.710,1.387],[2020.731,1.396],[2020.752,1.374],[2020.780,1.391],[2020.808,1.411]],
[[2020.034,1.123],[2020.069,1.130],[2020.103,1.107],[2020.131,1.090],[2020.152,1.066],[2020.173,1.082],[2020.194,1.095]],
[[2020.501,1.078],[2020.522,1.058],[2020.543,1.070],[2020.564,1.090],[2020.585,1.107],[2020.613,1.123],[2020.641,1.132],[2020.668,1.119],[2020.696,1.103],[2020.724,1.090],[2020.752,1.082],[2020.780,1.074]]];
const sr_F_pts = [[2020.124,1.345],[2020.187,1.461],[2020.208,1.362],[2020.236,1.378],[2020.264,1.329],[2020.306,1.432],[2020.320,1.280],[2020.355,1.308],[2020.389,1.362],[2020.431,1.325],[2020.473,1.419],[2020.529,1.407],[2020.606,1.415],[2020.661,1.403],[2020.710,1.407],[2020.752,1.403],[2020.780,1.292],[2020.808,1.419],[2020.843,1.465],[2020.892,1.407],[2020.947,1.329],[2021.003,1.395],[2021.073,1.403],[2020.103,1.292],
[2020.103,1.173],[2020.166,1.095],[2020.194,1.144],[2020.250,1.123],[2020.320,1.021],[2020.362,1.078],[2020.389,1.173],[2020.431,1.164],[2020.473,1.132],[2020.529,1.090],[2020.585,1.053],[2020.668,1.074],[2020.738,1.132],[2020.836,1.074],[2020.885,1.033],[2020.919,1.103],[2020.975,1.214],[2021.017,1.107],[2021.073,1.053],[2021.094,1.090]];
const sr_F_line = [
[[2020.180,1.387],[2020.197,1.374],[2020.215,1.378],[2020.236,1.362],[2020.250,1.345],[2020.271,1.341],[2020.292,1.350],[2020.313,1.354],[2020.334,1.341],[2020.350,1.333],[2020.375,1.345],[2020.396,1.337],[2020.417,1.354],[2020.445,1.333],[2020.473,1.345],[2020.494,1.354],[2020.515,1.341],[2020.543,1.374],[2020.564,1.387],[2020.585,1.382],[2020.606,1.378],[2020.627,1.382],[2020.654,1.387],[2020.682,1.362],[2020.710,1.370],[2020.731,1.362],[2020.759,1.374],[2020.780,1.366],[2020.808,1.382],[2020.829,1.378],[2020.850,1.387],[2020.878,1.374],[2020.898,1.378],[2020.919,1.391],[2020.940,1.387],[2020.961,1.370],[2020.982,1.358],[2021.003,1.374],[2021.024,1.366],[2021.045,1.350],[2021.066,1.354],[2021.087,1.378],[2021.098,1.382]],
[[2020.166,1.119],[2020.187,1.132],[2020.208,1.115],[2020.229,1.100],[2020.250,1.115],[2020.271,1.123],[2020.292,1.132],[2020.313,1.107],[2020.334,1.090],[2020.355,1.107],[2020.375,1.123],[2020.396,1.127],[2020.417,1.119],[2020.445,1.111],[2020.473,1.107],[2020.501,1.103],[2020.522,1.115],[2020.543,1.107],[2020.564,1.111],[2020.585,1.103],[2020.606,1.107],[2020.627,1.115],[2020.648,1.103],[2020.668,1.115],[2020.689,1.123],[2020.710,1.107],[2020.731,1.119],[2020.752,1.111],[2020.773,1.103],[2020.794,1.119],[2020.822,1.140],[2020.843,1.140],[2020.864,1.132],[2020.885,1.123],[2020.905,1.115],[2020.926,1.107],[2020.947,1.111],[2020.968,1.103],[2020.982,1.090],[2020.996,1.078],[2021.017,1.090],[2021.045,1.095],[2021.073,1.099],[2021.098,1.103]]];

// ---------- e: slice profile FWHM (mm) ----------
const sp_A_pts = [[2020.438,5.110],[2020.459,5.060],[2020.303,5.020],[2020.345,4.951],[2020.373,4.941],[2020.396,5.011],[2020.480,4.932],[2020.518,4.922],[2020.368,5.040],[2020.536,5.011],[2020.044,4.981],[2020.350,4.951]];
const sp_A_line = [[[2020.368,4.989],[2020.389,4.987],[2020.410,5.001],[2020.431,5.024],[2020.452,5.046],[2020.473,5.051],[2020.487,5.028],[2020.501,4.994],[2020.515,4.967],[2020.529,4.984],[2020.543,4.997],[2020.564,5.001]]];
const sp_B_pts = [[2018.415,5.030],[2018.429,5.030],[2018.481,5.020],[2018.495,5.020],[2018.509,5.020],[2018.698,5.020],[2018.711,4.991],[2018.732,5.040],[2018.750,4.960],[2018.760,5.011],[2018.771,4.991],[2018.785,5.050],[2018.792,5.050],[2018.809,5.060],[2018.829,5.040],[2018.848,5.080],[2018.866,5.030],[2018.882,5.060],[2018.908,5.030],[2018.945,5.001],[2018.963,5.070],[2019.015,4.970],[2019.039,4.970],[2019.039,5.090],[2019.078,5.040],[2019.113,5.030],[2019.134,5.040],[2019.154,4.950],[2019.173,5.011],[2019.192,4.991],[2019.213,5.020],[2019.231,5.011],[2019.245,5.001],[2019.269,5.040],[2019.290,5.030],[2019.308,5.020],[2019.329,5.040],[2019.347,5.011],[2019.364,5.011],[2019.385,5.050],[2019.405,5.001],[2019.424,5.070],[2019.443,5.090],[2019.461,5.020],[2019.482,4.991],[2019.503,5.011],[2019.517,5.050],[2019.535,4.960],[2019.559,5.040],[2019.577,5.001],[2019.594,5.040],[2019.615,5.040],[2019.636,5.040],[2019.652,4.991],[2019.671,5.001],[2019.692,5.070],[2019.710,5.011],[2019.730,4.970],[2019.747,5.030],[2019.761,5.040],[2019.771,4.960],[2019.789,5.030],[2019.810,5.040],[2019.824,5.040],[2019.845,4.991],[2019.859,5.090],[2019.873,5.001],[2019.887,5.060],[2019.901,5.050],[2019.922,5.050],[2019.940,5.030],[2019.959,5.040],[2019.977,5.090],[2019.998,5.030],[2020.019,5.001],[2020.033,5.030],[2020.076,5.070],[2020.131,5.060],[2020.187,5.060],[2020.229,5.070],[2020.250,5.050],[2020.166,5.040],[2020.194,5.030],[2020.267,5.030],
[2021.352,5.040],[2021.380,5.020],[2021.394,5.040],[2021.436,5.060],[2021.449,5.011],[2021.463,5.040],[2021.477,4.991],[2021.491,4.970],[2021.512,5.060],[2021.533,5.030],[2021.554,5.001],[2021.572,4.951],[2021.589,5.020],[2021.624,4.991],[2021.645,4.981],[2021.666,4.970],[2021.694,5.070],[2021.715,5.020],[2021.735,5.040],[2021.756,5.040],[2021.777,4.991],[2021.805,4.970],[2021.819,5.050],[2021.847,5.020],[2021.861,4.991],[2021.896,5.030],[2021.917,5.030]];
const sp_B_line = [
[[2018.726,5.020],[2018.743,5.011],[2018.757,5.000],[2018.778,5.001],[2018.792,5.003],[2018.799,5.028],[2018.827,5.046],[2018.848,5.059],[2018.869,5.055],[2018.894,5.054],[2018.917,5.044],[2018.938,5.034],[2018.952,5.029],[2018.963,5.051],[2018.987,5.044],[2019.008,5.038],[2019.029,5.033],[2019.043,5.046],[2019.057,5.024],[2019.071,5.021],[2019.078,5.026],[2019.092,5.004],[2019.106,5.018],[2019.120,5.024],[2019.134,5.011],[2019.147,5.007],[2019.161,5.009],[2019.178,5.009],[2019.192,5.004],[2019.210,4.994],[2019.224,4.997],[2019.238,5.004],[2019.259,5.016],[2019.280,5.019],[2019.301,5.024],[2019.322,5.033],[2019.343,5.029],[2019.364,5.026],[2019.385,5.023],[2019.399,5.019],[2019.412,5.026],[2019.419,5.038],[2019.440,5.044],[2019.461,5.054],[2019.475,5.044],[2019.496,5.018],[2019.510,5.009],[2019.524,5.018],[2019.545,5.012],[2019.566,5.018],[2019.580,5.012],[2019.594,5.011],[2019.615,5.031],[2019.636,5.031],[2019.657,5.028],[2019.671,5.019],[2019.692,5.026],[2019.712,5.018],[2019.733,5.014],[2019.754,5.023],[2019.768,5.012],[2019.789,5.016],[2019.817,5.018],[2019.845,5.026],[2019.866,5.041],[2019.880,5.044],[2019.894,5.050],[2019.908,5.044],[2019.929,5.051],[2019.943,5.046],[2019.963,5.048],[2019.992,5.048],[2020.013,5.043],[2020.041,5.039],[2020.057,5.019],[2020.083,5.036],[2020.103,5.037],[2020.124,5.044],[2020.145,5.033],[2020.166,5.026],[2020.183,5.034],[2020.201,5.011],[2020.219,5.034],[2020.236,5.024],[2020.257,5.029]],
[[2021.380,5.004],[2021.381,5.028],[2021.408,5.026],[2021.428,5.034],[2021.449,5.028],[2021.470,5.031],[2021.484,5.036],[2021.505,5.034],[2021.519,5.029],[2021.540,5.026],[2021.561,5.011],[2021.582,5.004],[2021.603,4.997],[2021.624,4.987],[2021.638,5.001],[2021.652,4.987],[2021.666,4.997],[2021.687,5.006],[2021.708,5.014],[2021.729,5.012],[2021.749,5.018],[2021.770,5.021],[2021.791,5.019],[2021.810,5.023],[2021.829,5.017],[2021.847,5.026],[2021.868,5.032],[2021.889,5.028],[2021.910,5.031],[2021.924,5.028]]];
const sp_C_pts = [[2020.348,5.040],[2020.345,4.981],[2020.362,4.950],[2020.396,4.960],[2020.431,4.960],[2020.459,4.951],[2020.484,4.951],[2020.546,5.030],[2020.557,4.960],[2020.578,4.960],[2020.601,4.941],[2020.615,4.941],[2020.680,4.941],[2020.696,5.030],[2020.735,5.030],[2020.756,5.020],[2020.794,4.941],[2020.839,5.071],[2020.847,5.050],[2020.853,4.991],[2020.668,5.011]];
const sp_C_line = [[[2020.359,5.014],[2020.368,4.997],[2020.389,4.975],[2020.410,4.970],[2020.431,4.974],[2020.452,4.991],[2020.466,5.007],[2020.480,4.997],[2020.494,4.981],[2020.508,4.987],[2020.529,5.004],[2020.543,4.994],[2020.557,4.981],[2020.571,4.977],[2020.585,4.997],[2020.599,4.984],[2020.620,4.983],[2020.641,4.977],[2020.661,4.964],[2020.682,4.965],[2020.703,4.967],[2020.724,4.974],[2020.745,4.996],[2020.766,5.011],[2020.787,4.997],[2020.808,4.994],[2020.829,5.001],[2020.843,5.011],[2020.850,5.026]]];
const sp_D_pts = [[2020.713,5.061],[2020.693,5.011],[2020.564,4.981],[2020.825,5.040],[2020.850,4.991],[2020.982,5.001],[2021.042,4.951],[2021.098,4.941],[2021.118,4.970],[2021.140,4.981],[2021.173,5.030],[2021.198,4.981],[2021.238,5.020],[2021.289,5.040],[2021.310,4.970],[2021.331,5.040],[2021.345,5.020],[2021.387,4.991],[2021.425,4.951],[2021.477,5.011],[2021.496,4.960],[2021.498,4.951],[2021.540,5.001],[2021.547,4.991],[2021.675,4.960],[2021.731,4.970],[2021.701,4.981],[2021.617,5.011],[2021.436,5.011]];
const sp_D_line = [
[[2020.624,5.004],[2020.643,4.999],[2020.666,5.007],[2020.685,5.016],[2020.703,5.024],[2020.710,5.001],[2020.717,4.987]],
[[2020.815,5.007],[2020.836,5.014],[2020.864,5.011],[2020.892,5.009],[2020.919,5.007],[2020.947,5.002]],
[[2021.098,4.964],[2021.115,4.959],[2021.136,4.969],[2021.157,4.962],[2021.177,4.984],[2021.198,4.989],[2021.219,5.006],[2021.240,5.018],[2021.261,5.019],[2021.282,5.029],[2021.303,5.018],[2021.317,5.009],[2021.331,5.014],[2021.352,5.011],[2021.373,5.006],[2021.401,5.007],[2021.421,5.004],[2021.433,4.984],[2021.449,4.977],[2021.470,4.975],[2021.491,4.981],[2021.512,4.981],[2021.533,4.979],[2021.561,4.977],[2021.589,4.977],[2021.617,4.986],[2021.638,4.987],[2021.659,4.983],[2021.680,4.979],[2021.701,4.987],[2021.721,4.989],[2021.745,4.986],[2021.777,4.982]]];
const sp_E_pts = [[2020.097,4.951],[2020.122,5.011],[2020.136,5.030],[2020.159,4.970],[2020.180,5.011],[2020.236,5.011],[2020.522,4.941],[2020.532,5.071],[2020.560,4.951],[2020.581,5.060],[2020.638,5.080],[2020.689,4.970],[2020.752,4.960],[2020.773,5.030],[2020.811,4.932],[2020.571,5.011],[2020.724,5.011],[2020.668,4.991],[2020.229,4.980]];
const sp_E_line = [
[[2020.090,4.997],[2020.110,5.007],[2020.131,5.006],[2020.152,4.991],[2020.166,5.004],[2020.187,5.002],[2020.208,4.997],[2020.222,4.996]],
[[2020.522,4.997],[2020.543,5.007],[2020.564,5.004],[2020.578,5.019],[2020.592,5.034],[2020.613,5.031],[2020.627,5.044],[2020.638,5.056],[2020.654,5.041],[2020.668,5.034],[2020.682,5.026],[2020.696,5.018],[2020.710,5.004],[2020.731,4.992],[2020.752,4.981],[2020.766,4.986]]];
const sp_F_pts = [[2020.110,5.050],[2020.149,4.981],[2020.211,4.970],[2020.327,4.970],[2020.285,5.011],[2020.396,4.960],[2020.473,4.960],[2020.529,5.011],[2020.574,4.941],[2020.592,4.951],[2020.780,4.951],[2020.801,4.970],[2020.864,4.970],[2020.885,4.960],[2020.898,4.941],[2020.917,5.060],[2020.947,4.960],[2020.982,4.932],[2021.031,5.001],[2021.070,4.951],[2021.090,4.932],[2020.794,5.011],[2020.836,4.991]];
const sp_F_line = [[[2020.124,5.021],[2020.145,5.016],[2020.166,5.009],[2020.194,4.997],[2020.222,4.987],[2020.243,4.979],[2020.264,4.981],[2020.285,4.986],[2020.306,4.992],[2020.327,5.001],[2020.348,4.991],[2020.368,4.992],[2020.389,4.981],[2020.410,4.979],[2020.431,4.984],[2020.452,4.987],[2020.473,4.981],[2020.494,4.986],[2020.515,4.992],[2020.536,4.997],[2020.557,4.994],[2020.571,4.987],[2020.592,4.994],[2020.613,4.991],[2020.634,4.996],[2020.654,4.992],[2020.675,4.989],[2020.696,4.981],[2020.717,4.987],[2020.738,4.986],[2020.752,4.997],[2020.773,4.987],[2020.794,4.979],[2020.815,4.972],[2020.836,4.981],[2020.857,4.979],[2020.878,4.969],[2020.898,4.987],[2020.917,4.977],[2020.933,4.997],[2020.947,4.991],[2020.964,5.001],[2020.978,4.962],[2020.996,4.970],[2021.017,4.975],[2021.038,4.974],[2021.059,4.970],[2021.080,4.967],[2021.098,4.965]]];

// ---------- helpers ----------
const colorOf = Object.fromEntries(seriesNames.map((s, i) => [s, seriesColors[i]]));
function yd(y){const Y=Math.floor(y);const a=Date.UTC(Y,0,1),b=Date.UTC(Y+1,0,1);return new Date(a+(y-Y)*(b-a));}
const xDomain = [new Date(Date.UTC(2018,3,1)), new Date(Date.UTC(2022,1,1))];
const minorTicks = d3.utcMonth.range(xDomain[0], new Date(Date.UTC(2022,1,2)));
const majorTicks = xMajorTicks.map(s => new Date(s + "T00:00:00Z"));
const majorLabel = new Map(majorTicks.map((d, i) => [+d, xMajorLabels[i]]));
const eventX = eventDates.map(s => new Date(s + "T00:00:00Z"));

function panel(o){
  const marks = [];
  for (const [s, pts] of o.dots) {
    marks.push(Plot.dot(pts, o.solid
      ? {x: p => yd(p[0]), y: p => p[1], r: 2.6, fill: colorOf[s], stroke: "none"}
      : {x: p => yd(p[0]), y: p => p[1], r: 3.8, fill: colorOf[s], fillOpacity: 0.38, stroke: colorOf[s], strokeOpacity: 0.42, strokeWidth: 1}));
  }
  if (o.hline != null) marks.push(Plot.ruleY([o.hline], {stroke: "#1f77b4", strokeWidth: 1.6}));
  for (const [s, segs] of (o.lines || [])) for (const seg of segs)
    marks.push(Plot.line(seg, {x: p => yd(p[0]), y: p => p[1], stroke: colorOf[s], strokeWidth: 4.8, strokeLinejoin: "round", strokeLinecap: "butt"}));
  eventX.forEach((d, i) => marks.push(Plot.ruleX([d], {stroke: eventColors[i], strokeWidth: 1.5, strokeDasharray: "5.5,2.5"})));
  if (o.eventText) eventX.forEach((d, i) => marks.push(Plot.text([eventLabels[i]], {x: [d], frameAnchor: "bottom", lineAnchor: "middle", textAnchor: "start", dx: 1, dy: -5, fill: eventColors[i], fontSize: 11})));
  marks.push(Plot.axisY({ticks: o.yTicks, tickFormat: o.yFmt, tickSize: 4, tickPadding: 3, label: null}));
  marks.push(Plot.axisX({ticks: minorTicks, tickSize: 2, tickFormat: () => "", label: null}));
  marks.push(Plot.axisX({ticks: majorTicks, tickSize: 4, tickPadding: 3, tickFormat: o.xLabels ? (d => majorLabel.get(+d)) : (() => ""), label: null}));
  marks.push(Plot.frame({stroke: "#222", strokeWidth: 1}));
  marks.push(Plot.text([panelTitles[o.i]], {frameAnchor: "top", lineAnchor: "middle", dy: -11, fontSize: 13, fill: "#111"}));
  marks.push(Plot.text([panelNotes[o.i]], {frameAnchor: "top-left", lineAnchor: "middle", textAnchor: "start", dx: 10, dy: 10, fontSize: 13, fill: "#111"}));
  marks.push(Plot.text([panelLetters[o.i]], {frameAnchor: "top-right", lineAnchor: "middle", textAnchor: "end", dx: -8, dy: 10, fontSize: 13, fill: "#111"}));
  marks.push(Plot.text([panelYLabels[o.i]], {frameAnchor: "left", rotate: -90, textAnchor: "middle", lineAnchor: "middle", dx: o.ylDx, fontSize: 11, fill: "#111"}));
  if (o.extra) marks.push(...o.extra);
  const svg = Plot.plot({
    width: 989, height: o.h, marginLeft: 68, marginRight: 3, marginTop: 18, marginBottom: o.h - 18 - 205,
    x: {type: "utc", domain: xDomain},
    y: {domain: o.yDomain},
    style: {fontFamily: "DejaVu Sans, sans-serif", fontSize: "11px", color: "#111", background: "transparent", overflow: "visible"},
    marks
  });
  svg.style.top = o.top + "px";
  document.getElementById("wrap").appendChild(svg);
}

panel({i: 0, top: 0, h: 247, yDomain: [6.387221, 6.389439], yTicks: yTicksA, yFmt: d => d.toFixed(5), ylDx: -63, solid: true,
  dots: [["MRL B", cf_B], ["MRL E", cf_E], ["MRL F", cf_F], ["MRL A", cf_A], ["MRL C", cf_C], ["MRL D", cf_D]]});

panel({i: 1, top: 247, h: 247, yDomain: [44.94, 63.56], yTicks: yTicksB, yFmt: d => d.toFixed(1), ylDx: -39, hline: 50,
  dots: [["MRL A", sn_A_pts], ["MRL B", sn_B_pts], ["MRL C", sn_C_pts], ["MRL D", sn_D_pts], ["MRL E", sn_E_pts], ["MRL F", sn_F_pts]],
  lines: [["MRL A", sn_A_line], ["MRL B", sn_B_line], ["MRL C", sn_C_line], ["MRL D", sn_D_line], ["MRL E", sn_E_line], ["MRL F", sn_F_line]]});

panel({i: 2, top: 494, h: 247, yDomain: [0.0067, 0.5237], yTicks: yTicksC, yFmt: d => d.toFixed(1), ylDx: -36,
  dots: [["MRL A", sl_A_pts], ["MRL B", sl_B_pts], ["MRL C", sl_C_pts], ["MRL D", sl_D_pts], ["MRL E", sl_E_pts], ["MRL F", sl_F_pts]],
  lines: [["MRL A", sl_A_line], ["MRL B", sl_B_line], ["MRL C", sl_C_line], ["MRL D", sl_D_line], ["MRL E", sl_E_line], ["MRL F", sl_F_line]]});

panel({i: 3, top: 741, h: 247, yDomain: [0.998, 1.504], yTicks: yTicksD, yFmt: d => d.toFixed(1), ylDx: -35,
  dots: [["MRL A", sr_A_pts], ["MRL B", sr_B_pts], ["MRL C", sr_C_pts], ["MRL D", sr_D_pts], ["MRL E", sr_E_pts], ["MRL F", sr_F_pts]],
  lines: [["MRL A", sr_A_line], ["MRL B", sr_B_line], ["MRL C", sr_C_line], ["MRL D", sr_D_line], ["MRL E", sr_E_line], ["MRL F", sr_F_line]],
  extra: [Plot.text(["horizontal < 1.3mm"], {x: [xDomain[0]], y: [1.226], textAnchor: "start", lineAnchor: "middle", dx: 10, fontSize: 13, fill: "#111"})]});

panel({i: 4, top: 988, h: 250, yDomain: [4.9122, 5.1192], yTicks: yTicksE, yFmt: d => d.toFixed(3), ylDx: -49, xLabels: true, eventText: true,
  dots: [["MRL A", sp_A_pts], ["MRL B", sp_B_pts], ["MRL C", sp_C_pts], ["MRL D", sp_D_pts], ["MRL E", sp_E_pts], ["MRL F", sp_F_pts]],
  lines: [["MRL A", sp_A_line], ["MRL B", sp_B_line], ["MRL C", sp_C_line], ["MRL D", sp_D_line], ["MRL E", sp_E_line], ["MRL F", sp_F_line]]});

// legend
const lg = document.getElementById("legend");
seriesNames.forEach((s, i) => {
  const it = document.createElement("div");
  it.className = "item";
  it.style.left = (4 + i * 119.4) + "px";
  it.innerHTML = `<span class="sw" style="background:${seriesColors[i]}"></span>${s}`;
  lg.appendChild(it);
});
</script></body></html>
